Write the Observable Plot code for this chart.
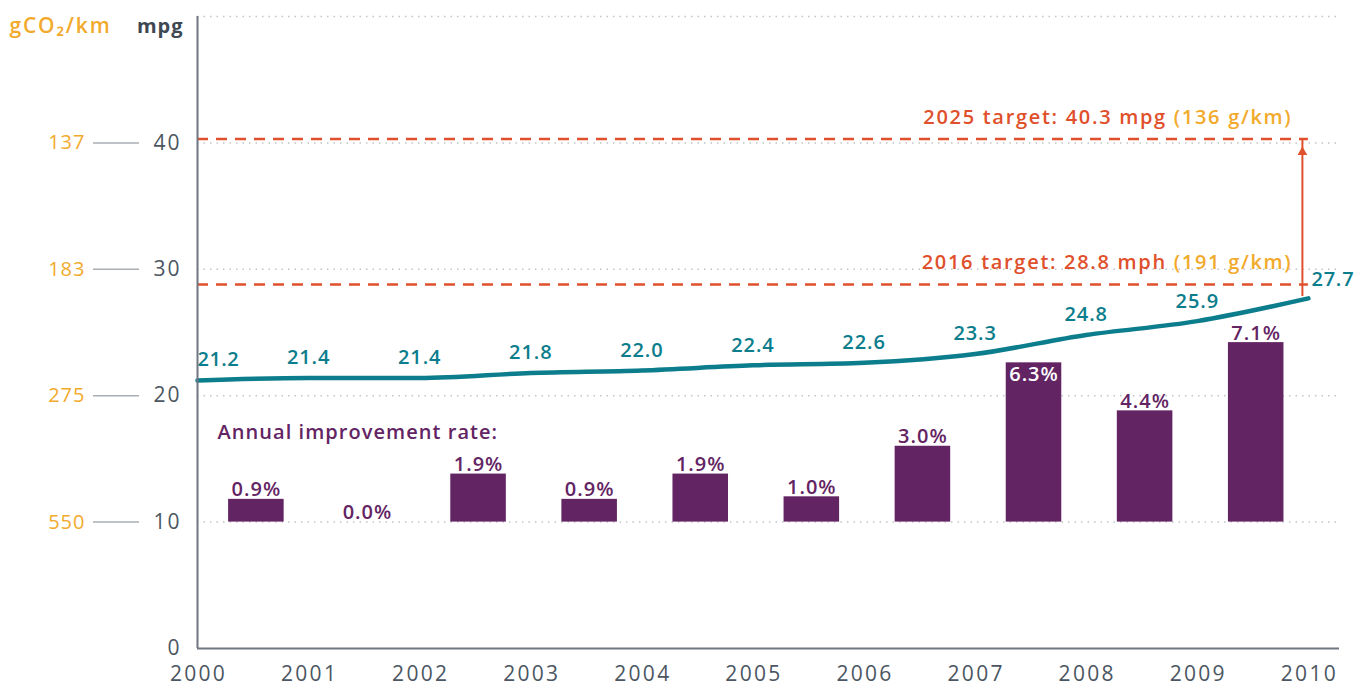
<!DOCTYPE html>
<html>
<head>
<meta charset="utf-8">
<script src="https://cdn.jsdelivr.net/npm/d3@7"></script>
<script src="https://cdn.jsdelivr.net/npm/@observablehq/plot@0.6"></script>
<style>
  html, body { margin: 0; padding: 0; background: #fff; }
</style>
</head>
<body>
<div id="chart"></div>
<script>
// ---- data ----
const years = [2000, 2001, 2002, 2003, 2004, 2005, 2006, 2007, 2008, 2009, 2010];
const mpg = [21.2, 21.4, 21.4, 21.8, 22.0, 22.4, 22.6, 23.3, 24.8, 25.9, 27.7];
const rateYears = [2000, 2001, 2002, 2003, 2004, 2005, 2006, 2007, 2008, 2009];
const rates = [0.9, 0.0, 1.9, 0.9, 1.9, 1.0, 3.0, 6.3, 4.4, 7.1];
const mpgTicks = [0, 10, 20, 30, 40];
const gco2Ticks = [10, 20, 30, 40];
const gco2Labels = ["550", "275", "183", "137"];
const gridTicks = [10, 20, 30, 40, 50];
const targetNames = ["2016 target: 28.8 mph", "2025 target: 40.3 mpg"];
const targetCo2 = ["(191 g/km)", "(136 g/km)"];
const targetValues = [28.8, 40.3];
const rateLabel = "Annual improvement rate:";

// ---- derived tables ----
const mpgData = years.map((year, i) => ({year, mpg: mpg[i]}));
const barData = rateYears.map((year, i) => ({year, rate: rates[i]}));
const targets = targetNames.map((label, i) => ({label, co2: targetCo2[i], value: targetValues[i]}));
const arrowData = [{from: targetValues[0], to: targetValues[1]}];
const gco2Map = new Map(gco2Ticks.map((t, i) => [t, gco2Labels[i]]));

// ---- style ----
const TEAL = "#0b7d8c";
const PURPLE = "#632463";
const RED = "#e0502c";
const YELLOW = "#f2aa2c";
const GRAY = "#4b5662";
const AXIS = "#6f7780";
const BAR_SCALE = 2;   // mpg-axis units per percentage point
const BAR_BASE = 10;

const barTop = d => BAR_BASE + d.rate * BAR_SCALE;
const fmt1 = d => d.toFixed(1);

// render hook that widens letter spacing of a mark's texts
const spaced = (ls, extra) => function(index, scales, values, dims, ctx, next) {
  const g = next(index, scales, values, dims, ctx);
  if (g) {
    g.style.letterSpacing = ls;
    g.querySelectorAll("text").forEach(t => { t.style.letterSpacing = ls; t.setAttribute("letter-spacing", ls); });
    if (extra) extra(g);
  }
  return g;
};

const chart = Plot.plot({
  width: 1369,
  height: 688,
  marginLeft: 197,
  marginRight: 30,
  marginTop: 16,
  marginBottom: 40,
  style: {fontFamily: "'Open Sans', sans-serif", fontSize: "20px", background: "#fff"},
  x: {domain: [2000, 2010.28]},
  y: {domain: [0, 50]},
  marks: [
    Plot.gridY({ticks: gridTicks, stroke: "#bfc4c9", strokeOpacity: 1, strokeWidth: 1.5, strokeDasharray: "1.5,5"}),
    Plot.axisX({ticks: years, tickSize: 0, tickPadding: 18, tickFormat: d => String(d), fill: GRAY, fontSize: 21, label: null,
      dx: 1, render: spaced("2.3px")}),
    Plot.axisY({ticks: mpgTicks, tickSize: 0, tickPadding: 16, fill: GRAY, fontSize: 21, label: null,
      render: spaced("2px")}),
    Plot.axisY({ticks: gco2Ticks, tickSize: 46, tickPadding: 8, dx: -58, stroke: "#a9aeb3", strokeWidth: 1.5,
      fill: YELLOW, fontSize: 20, tickFormat: d => gco2Map.get(d), label: null, render: spaced("1px")}),
    Plot.text(["mpg"], {frameAnchor: "top-left", text: d => d, dx: -14, dy: 2, textAnchor: "end",
      fill: "#3e4852", fontWeight: 700, fontSize: 20, render: spaced("1px")}),
    Plot.text(["gCO₂/km"], {frameAnchor: "top-left", text: d => d, dx: -86, dy: 2, textAnchor: "end",
      fill: YELLOW, fontWeight: 600, fontSize: 21, render: spaced("1.8px")}),
    // targets
    Plot.ruleY(targets, {y: "value", x1: 2000, x2: 2010, stroke: RED, strokeWidth: 2.5, strokeDasharray: "11,8"}),
    Plot.ruleX(arrowData, {x: 2010, y1: "from", y2: "to", dx: -6, inset: 0, insetTop: 12, stroke: RED, strokeWidth: 2}),
    Plot.dot(arrowData, {x: 2010, y: "to", dx: -6, dy: 13, symbol: "triangle", r: 3.6, fill: RED, stroke: null}),
    Plot.text(targets, {x: 2010, y: "value", text: "label", textAnchor: "end", dx: -16, dy: -22,
      fill: RED, fontWeight: 600, fontSize: 20,
      render: spaced("1.7px", g => {
        d3.select(g).selectAll("text").each(function(i) {
          d3.select(this).append("tspan").attr("fill", YELLOW).text(" " + targets[i].co2);
        });
      })}),
    // bars
    Plot.rect(barData, {x1: d => d.year + 0.28, x2: d => d.year + 0.78, y1: BAR_BASE, y2: barTop, fill: PURPLE}),
    Plot.text(barData.filter(d => d.year !== 2007), {x: d => d.year + 0.53, y: barTop, text: d => fmt1(d.rate) + "%",
      lineAnchor: "bottom", dy: -3, fill: PURPLE, fontWeight: 600, fontSize: 20, render: spaced("1px")}),
    Plot.text(barData.filter(d => d.year === 2007), {x: d => d.year + 0.53, y: barTop, text: d => fmt1(d.rate) + "%",
      lineAnchor: "top", dy: 4, fill: "#fff", fontWeight: 600, fontSize: 20, render: spaced("1px")}),
    Plot.text([rateLabel], {x: 2000, y: 17.1, text: d => d, textAnchor: "start", dx: 20,
      fill: PURPLE, fontWeight: 600, fontSize: 20, render: spaced("1.05px")}),
    // mpg line
    Plot.line(mpgData, {x: "year", y: "mpg", stroke: TEAL, strokeWidth: 4.5, curve: "monotone-x"}),
    Plot.text(mpgData.slice(0, 1), {x: "year", y: "mpg", text: d => fmt1(d.mpg), textAnchor: "start", dy: -21,
      fill: TEAL, fontWeight: 600, fontSize: 20, render: spaced("0.5px")}),
    Plot.text(mpgData.slice(1, -1), {x: "year", y: "mpg", text: d => fmt1(d.mpg), dy: -20,
      fill: TEAL, fontWeight: 600, fontSize: 20, render: spaced("0.9px")}),
    Plot.text(mpgData.slice(-1), {x: "year", y: "mpg", text: d => fmt1(d.mpg), textAnchor: "start", dx: 3, dy: -19,
      fill: TEAL, fontWeight: 600, fontSize: 20, render: spaced("0.8px")}),
    // axis lines
    Plot.ruleX([2000], {stroke: AXIS, strokeWidth: 2}),
    Plot.ruleY([0], {stroke: AXIS, strokeWidth: 2})
  ]
});
document.getElementById("chart").append(chart);
</script>
</body>
</html>
